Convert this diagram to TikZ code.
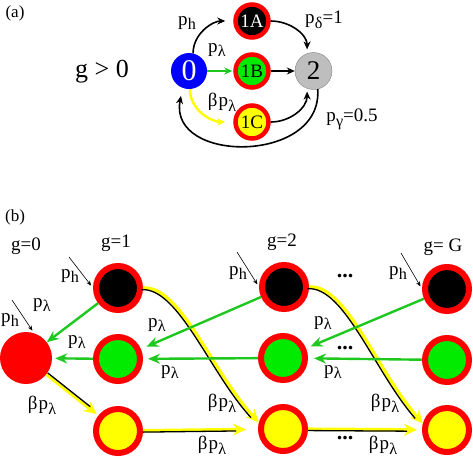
\documentclass[tikz,border=0pt]{standalone}
\usepackage{fontspec}
\setmainfont{Liberation Serif}
\usetikzlibrary{arrows.meta}
\definecolor{ringred}{RGB}{255,0,0}
\definecolor{nodeblue}{RGB}{0,0,255}
\definecolor{nodegreen}{RGB}{0,235,0}
\definecolor{arrowgreen}{RGB}{30,200,30}
\definecolor{nodegray}{RGB}{190,190,190}
\definecolor{nodeyellow}{RGB}{255,255,0}
\newcommand{\pp}[1]{p\kern0.3pt\raisebox{-0.55ex}{\scalebox{0.85}{#1}}}

\begin{document}
\begin{tikzpicture}[x=1pt,y=-1pt,
  lbl/.style  = {font=\fontsize{19}{22}\selectfont, inner sep=0pt},
  snode/.style = {circle, draw=ringred, line width=4.5pt, minimum size=33pt,
                  inner sep=0pt, font=\fontsize{19}{22}\selectfont},
  bnode/.style = {circle, draw=ringred, line width=6pt, minimum size=44pt, inner sep=0pt},
  barr/.style = {-{Stealth[length=8pt,width=7pt]}, line width=1.6pt, black},
  garr/.style = {-{Stealth[length=12pt,width=10pt]}, line width=2.4pt, arrowgreen},
  yarr/.style = {-{Stealth[length=13pt,width=12pt]}, line width=3.4pt, nodeyellow},
  kline/.style = {line width=1.3pt, black},
  harr/.style = {-{Stealth[length=5pt,width=4pt]}, line width=0.6pt, black, shorten >=3pt},
  dots/.style = {font=\fontsize{22}{24}\selectfont\bfseries, inner sep=0pt}
]
  \useasboundingbox (0,0) rectangle (473,459);

  % (a)
  \node[lbl, font=\fontsize{17}{20}\selectfont] (tita) at (15,13) {(a)};
  \node[lbl, font=\fontsize{26}{30}\selectfont] (gpos) at (102,72) {g > 0};
  \node[circle, fill=nodeblue, minimum size=36pt, inner sep=0pt, text=white,
        font=\fontsize{30}{34}\selectfont] (n0) at (189,71) {0};
  \node[snode, fill=black, text=white] (n1A) at (252,21)  {1A};
  \node[snode, fill=nodegreen]         (n1B) at (252,71)  {1B};
  \node[snode, fill=nodeyellow]        (n1C) at (252,122) {1C};
  \node[circle, fill=nodegray, draw=gray, minimum size=37pt, inner sep=0pt,
        font=\fontsize{27}{30}\selectfont] (n2) at (313.5,71) {2};

  \draw[barr, shorten >=8pt] (n0.77) to[out=90,in=180] (n1A.west);
  \draw[garr, line width=2pt, -{Stealth[length=8pt,width=7pt]}, shorten >=1pt] (n0) -- (n1B);
  \draw[yarr, line width=2.4pt, -{Stealth[length=8pt,width=7pt]}, shorten >=8pt]
    (n0.-87) to[out=-90,in=180] (n1C.west);
  \draw[barr, shorten >=4pt] (n1A.east) to[out=0,in=90] (n2.110);
  \draw[barr] (n1B) -- (n2);
  \draw[barr, shorten >=3pt] (n1C.east) to[out=0,in=-90] (n2.250);
  \draw[barr, shorten >=8pt] (n2.-77) .. controls (323,164) and (168,164) .. (n0.249);

  \node[lbl] (lph)  at (187,23)  {\pp{h}};
  \node[lbl] (lpl)  at (217,50)  {\pp{λ}};
  \node[lbl] (lbpl) at (222,102) {β\kern1pt\pp{λ}};
  \node[lbl] (lpd)  at (324,20)  {\pp{δ}=1};
  \node[lbl] (lpg)  at (352,119) {\pp{γ}=0.5};

  % (b)
  \node[lbl, font=\fontsize{17}{20}\selectfont] (titb) at (15,217) {(b)};
  \node[lbl] (g0) at (26,246)  {g=0};
  \node[lbl] (g1) at (116,243) {g=1};
  \node[lbl] (g2) at (282,242) {g=2};
  \node[lbl] (gG) at (443,247) {g= G};

  \node[bnode, fill=black] (b1) at (118,288) {};
  \node[bnode, fill=black] (b2) at (284,287) {};
  \node[bnode, fill=black] (bG) at (447,289) {};
  \node[circle, fill=ringred, minimum size=52pt, inner sep=0pt] (r0) at (26,358) {};
  \node[bnode, fill=nodegreen] (gr1) at (118,359) {};
  \node[bnode, fill=nodegreen] (gr2) at (283,358) {};
  \node[bnode, fill=nodegreen] (grG) at (447,360) {};
  \node[bnode, fill=nodeyellow] (y1) at (118,431) {};
  \node[bnode, fill=nodeyellow] (y2) at (283,429) {};
  \node[bnode, fill=nodeyellow] (yG) at (447,430) {};

  % yellow-black arrows
  \draw[yarr, shorten >=2pt] (r0) -- (y1);
  \draw[kline, shorten >=12pt, transform canvas={shift={(1.3,-1.3)}}] (r0) -- (y1);
  \draw[yarr, shorten >=12pt] (y1) -- (y2);
  \draw[kline, shorten >=22pt, transform canvas={shift={(0,1.4)}}] (y1) -- (y2);
  \draw[yarr, shorten >=5pt] (y2) -- (yG);
  \draw[kline, shorten >=15pt, transform canvas={shift={(0,1.4)}}] (y2) -- (yG);
  \draw[yarr] (b1.east) .. controls (180,285) and (212,372) .. (y2.165);
  \draw[kline, shorten >=9pt, transform canvas={shift={(-1.7,1.7)}}]
    (b1.east) .. controls (180,285) and (212,372) .. (y2.165);
  \draw[yarr] (b2.east) .. controls (346,284) and (376,370) .. (yG.165);
  \draw[kline, shorten >=9pt, transform canvas={shift={(-1.7,1.7)}}]
    (b2.east) .. controls (346,284) and (376,370) .. (yG.165);

  % green arrows
  \draw[garr] (b1) -- (r0);
  \draw[garr, shorten >=3pt] (gr1) -- (r0);
  \draw[garr, shorten >=6pt] (b2) -- (gr1);
  \draw[garr, shorten >=5pt] (gr2) -- (gr1);
  \draw[garr, shorten >=5pt] (bG) -- (gr2);
  \draw[garr, shorten >=6pt] (grG) -- (gr2);

  % p_h pointers
  \coordinate (h0)  at (12,300);
  \coordinate (hb1) at (69,257);
  \coordinate (hb2) at (237,252);
  \coordinate (hbG) at (401,253);
  \draw[harr] (h0)  -- (r0.72);
  \draw[harr] (hb1) -- (b1.west);
  \draw[harr] (hb2) -- (b2.west);
  \draw[harr] (hbG) -- (bG.west);
  \node[lbl] (ph0)  at (10,320)  {\pp{h}};
  \node[lbl] (phb1) at (70,276)  {\pp{h}};
  \node[lbl] (phb2) at (238,273) {\pp{h}};
  \node[lbl] (phbG) at (398,273) {\pp{h}};

  \node[lbl] (l1) at (42,305)  {\pp{λ}};
  \node[lbl] (l2) at (77,342)  {\pp{λ}};
  \node[lbl] (l3) at (157,325) {\pp{λ}};
  \node[lbl] (l4) at (170,372) {\pp{λ}};
  \node[lbl] (l5) at (323,323) {\pp{λ}};
  \node[lbl] (l6) at (333,372) {\pp{λ}};
  \node[lbl] (m1) at (42,405)  {β\kern1pt\pp{λ}};
  \node[lbl] (m2) at (212,445) {β\kern1pt\pp{λ}};
  \node[lbl] (m3) at (222,403) {β\kern1pt\pp{λ}};
  \node[lbl] (m4) at (385,403) {β\kern1pt\pp{λ}};
  \node[lbl] (m5) at (383,445) {β\kern1pt\pp{λ}};
  \node[dots] (d1) at (345,276) {...};
  \node[dots] (d2) at (345,348) {...};
  \node[dots] (d3) at (345,438) {...};
\end{tikzpicture}
\end{document}
